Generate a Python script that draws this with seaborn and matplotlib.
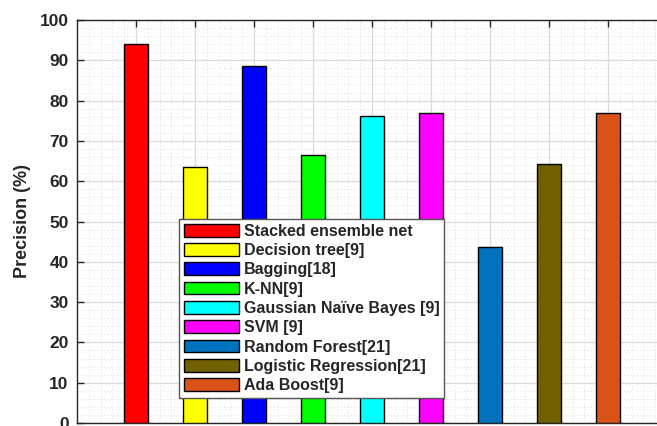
import matplotlib
matplotlib.use("Agg")
import matplotlib.pyplot as plt
from matplotlib.ticker import MultipleLocator
import seaborn as sns
import pandas as pd

methods = [
    "Stacked ensemble net",
    "Decision tree[9]",
    "Bagging[18]",
    "K-NN[9]",
    "Gaussian Naïve Bayes [9]",
    "SVM [9]",
    "Random Forest[21]",
    "Logistic Regression[21]",
    "Ada Boost[9]",
]
precision = [94.0, 63.4, 88.5, 66.6, 76.3, 76.8, 43.6, 64.3, 76.9]
colors = ["#ff0000", "#ffff00", "#0000ff", "#00ff00", "#00ffff",
          "#ff00ff", "#0072bd", "#706000", "#d95319"]
y_ticks = [0, 10, 20, 30, 40, 50, 60, 70, 80, 90, 100]

sns.set_style("white")
plt.rcParams["font.family"] = ["Liberation Sans", "DejaVu Sans"]
plt.rcParams["font.weight"] = "bold"

df = pd.DataFrame({"method": methods, "precision": precision})

fig = plt.figure(figsize=(6.57, 4.26), dpi=100)
# axes extends past the right edge of the canvas
ax = fig.add_axes([77 / 657, 3 / 426, 590 / 657, 403 / 426])

sns.barplot(data=df, x="method", y="precision", hue="method",
            palette=colors, saturation=1, width=0.4, dodge=False, legend=True,
            edgecolor="black", linewidth=1.0, ax=ax, zorder=3)

ax.set_xlim(-1, 9)
ax.set_ylim(0, 100)
ax.set_yticks(y_ticks)
ax.set_yticklabels([str(t) for t in y_ticks], fontsize=12.5, fontweight="bold",
                   color="#262626")
ax.set_xticks(range(len(methods)))
ax.set_xticklabels([])
ax.xaxis.set_minor_locator(MultipleLocator(0.2))
ax.yaxis.set_minor_locator(MultipleLocator(2))

ax.set_xlabel("")
ax.set_ylabel("Precision (%)", fontsize=13, fontweight="bold", color="#262626",
              labelpad=6)

ax.grid(which="major", color="#dcdcdc", linewidth=0.9, linestyle="-", zorder=0)
ax.grid(which="minor", color="#d0d0d0", linewidth=0.6, linestyle=(0, (1, 3)),
        zorder=0)
ax.set_axisbelow(True)

ax.tick_params(axis="both", which="major", direction="in", length=5,
               width=1.0, color="#262626", top=True, bottom=True, left=True,
               pad=6)
ax.tick_params(axis="both", which="minor", length=0)
for side in ["left", "top", "bottom", "right"]:
    ax.spines[side].set_color("#262626")
    ax.spines[side].set_linewidth(1.0)

leg = ax.legend(loc="lower left", bbox_to_anchor=(179 / 657, 28 / 426),
                bbox_transform=fig.transFigure, frameon=True, fancybox=False,
                framealpha=1.0, prop={"weight": "bold", "size": 11.5},
                handlelength=3.45, handleheight=0.85, labelspacing=0.27,
                handletextpad=0.3, borderpad=0.3, borderaxespad=0)
leg.get_frame().set_edgecolor("#555555")
leg.get_frame().set_linewidth(1.0)
leg.set_zorder(5)
for patch in leg.get_patches():
    patch.set_edgecolor("black")
    patch.set_linewidth(1.0)

fig.savefig("out.png", dpi=100)
